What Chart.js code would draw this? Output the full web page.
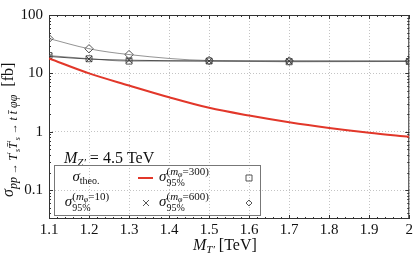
<!DOCTYPE html>
<html>
<head>
<meta charset="utf-8">
<script src="https://cdn.jsdelivr.net/npm/chart.js@4/dist/chart.umd.min.js"></script>
<style>
  html, body { margin: 0; padding: 0; background: #fff; }
  #wrap { width: 415px; height: 255px; }
</style>
</head>
<body>
<div id="wrap"><canvas id="xsec"></canvas></div>
<script>
// masses (TeV)
var massTheo = [1.1, 1.2, 1.3, 1.4, 1.5, 1.6, 1.7, 1.8, 1.9, 2.0];
var sigmaTheo = [18, 10, 6.2, 3.9, 2.57, 1.89, 1.45, 1.16, 0.96, 0.82];

var massLimit = [1.1, 1.2, 1.3, 1.5, 1.7, 2.0];
var limit10 = [19.5, 17.6, 16.8, 16.3, 16.2, 16.2];
var limit300 = [20.2, 17.8, 16.2, 16.3, 15.8, 16.0];
var limit600 = [39.5, 26.4, 21.0, 16.6, 16.3, 16.2];

var xTicks = [1.1, 1.2, 1.3, 1.4, 1.5, 1.6, 1.7, 1.8, 1.9, 2.0];
var xTickLabels = ["1.1", "1.2", "1.3", "1.4", "1.5", "1.6", "1.7", "1.8", "1.9", "2"];
var yTicks = [0.1, 1, 10, 100];
var yTickLabels = ["0.1", "1", "10", "100"];

var SERIF = "'Liberation Serif', 'DejaVu Serif', serif";
var RED = "#e2372a";

function pts(xs, ys) {
    return xs.map(function (x, i) { return { x: x, y: ys[i] }; });
}

// draw a run of text pieces: [text, size, italic, dy]
function drawRuns(ctx, runs, x, y) {
    runs.forEach(function (r) {
        ctx.font = (r[2] ? "italic " : "") + r[1] + "px " + SERIF;
        ctx.fillText(r[0], x, y + (r[3] || 0));
        x += ctx.measureText(r[0]).width;
    });
    return x;
}
function runsWidth(ctx, runs) {
    var w = 0;
    runs.forEach(function (r) {
        ctx.font = (r[2] ? "italic " : "") + r[1] + "px " + SERIF;
        w += ctx.measureText(r[0]).width;
    });
    return w;
}

function limitLabel(m) {
    return { sup: [["(", 11, false], ["m", 11, true], ["φ", 8, true, 2], ["=" + m + ")", 11, false]] };
}

function marker(ctx, style, x, y) {
    ctx.save();
    ctx.strokeStyle = "#444";
    ctx.lineWidth = 0.9;
    ctx.beginPath();
    if (style === "rect") {
        ctx.rect(x - 3, y - 3, 6, 6);
    } else if (style === "cross") {
        ctx.moveTo(x - 3, y - 3); ctx.lineTo(x + 3, y + 3);
        ctx.moveTo(x + 3, y - 3); ctx.lineTo(x - 3, y + 3);
    } else if (style === "diamond") {
        ctx.moveTo(x, y - 3); ctx.lineTo(x + 3, y); ctx.lineTo(x, y + 3); ctx.lineTo(x - 3, y); ctx.closePath();
    }
    ctx.stroke();
    ctx.restore();
}

var framePlugin = {
    id: "frame",
    beforeDatasetsDraw: function (chart) {
        var ctx = chart.ctx, a = chart.chartArea;
        var xs = chart.scales.x, ys = chart.scales.y;
        ctx.save();
        ctx.strokeStyle = "#333";
        ctx.lineWidth = 1;
        ctx.strokeRect(a.left + 0.5, a.top + 0.5, a.right - a.left - 1, a.bottom - a.top - 1);
        ctx.beginPath();
        // x ticks, major and minor, bottom and top
        for (var k = 0; k <= 45; k++) {
            var v = 1.1 + k * 0.02;
            var px = Math.round(xs.getPixelForValue(v)) + 0.5;
            var len = (k % 5 === 0) ? 4 : 2;
            ctx.moveTo(px, a.bottom); ctx.lineTo(px, a.bottom - len);
            ctx.moveTo(px, a.top); ctx.lineTo(px, a.top + len);
        }
        // y log ticks
        [0.01, 0.1, 1, 10].forEach(function (d) {
            for (var m = 1; m <= 9; m++) {
                var val = d * m;
                if (val < ys.min || val > ys.max) continue;
                var py = Math.round(ys.getPixelForValue(val)) + 0.5;
                var l = (m === 1) ? 4 : 2;
                ctx.moveTo(a.left, py); ctx.lineTo(a.left + l, py);
                ctx.moveTo(a.right, py); ctx.lineTo(a.right - l, py);
            }
        });
        ctx.stroke();
        ctx.restore();
    },
    afterDraw: function (chart) {
        var ctx = chart.ctx;
        ctx.save();
        ctx.fillStyle = "#111";
        ctx.textBaseline = "alphabetic";

        // M_Z' = 4.5 TeV
        drawRuns(ctx, [["M", 16, true], ["Z′", 11, true, 3], [" = 4.5 TeV", 16, false]], 64, 163);

        // legend box
        ctx.strokeStyle = "#777";
        ctx.lineWidth = 1;
        ctx.strokeRect(54.5, 165.5, 206, 50);

        // row 1, col 1: sigma_theo.
        var r1 = [["σ", 15, true], ["theo.", 10, false, 3]];
        drawRuns(ctx, r1, 86 - runsWidth(ctx, r1) / 2, 181);
        ctx.strokeStyle = RED;
        ctx.lineWidth = 2;
        ctx.beginPath(); ctx.moveTo(138, 178); ctx.lineTo(153, 178); ctx.stroke();

        // limit labels
        function limit(m, cx, y) {
            ctx.font = "italic 15px " + SERIF;
            var sw = ctx.measureText("σ").width;
            var sup = limitLabel(m).sup;
            var w = sw + runsWidth(ctx, sup);
            var x0 = cx - w / 2;
            ctx.font = "italic 15px " + SERIF;
            ctx.fillText("σ", x0, y);
            drawRuns(ctx, sup, x0 + sw, y - 6);
            drawRuns(ctx, [["95%", 10, false]], x0 + sw, y + 5);
        }
        limit("300", 184, 181);
        marker(ctx, "rect", 249, 178);
        limit("10", 87, 206);
        marker(ctx, "cross", 146, 203);
        limit("600", 184, 206);
        marker(ctx, "diamond", 249, 203);

        // x title
        drawRuns(ctx, [["M", 16, true], ["T′", 11, true, 3], [" [TeV]", 16, false]], 193, 250);

        // y title (rotated)
        ctx.translate(13, 197);
        ctx.rotate(-Math.PI / 2);
        drawRuns(ctx, [
            ["σ", 16, true],
            ["pp", 12, true, 4], [" → ", 11, false, 4], ["T", 12, true, 4], ["′", 9, false, 0], ["s", 8, true, 7],
            ["T̄", 12, true, 4], ["′", 9, false, 0], ["s", 8, true, 7],
            [" → ", 11, false, 4], ["t t̄ φφ", 12, true, 4],
            ["  [fb]", 16, false]
        ], 0, 0);
        ctx.restore();
    }
};

var ctx = document.getElementById("xsec").getContext("2d");
var chart = new Chart(ctx, {
    type: "line",
    data: {
        datasets: [
            {
                label: "theo",
                data: pts(massTheo, sigmaTheo),
                borderColor: RED,
                borderWidth: 2,
                pointRadius: 0,
                cubicInterpolationMode: "monotone",
                fill: false,
            },
            {
                label: "m10",
                data: pts(massLimit, limit10),
                borderColor: "#444",
                borderWidth: 0.9,
                pointStyle: "crossRot",
                pointRadius: 4.2,
                pointBorderColor: "#333",
                pointBorderWidth: 0.9,
                cubicInterpolationMode: "monotone",
                fill: false,
            },
            {
                label: "m300",
                data: pts(massLimit, limit300),
                borderColor: "#888",
                borderWidth: 0.9,
                pointStyle: "rect",
                pointRadius: 4.2,
                pointBackgroundColor: "rgba(255,255,255,0)",
                pointBorderColor: "#444",
                pointBorderWidth: 0.9,
                cubicInterpolationMode: "monotone",
                fill: false,
            },
            {
                label: "m600",
                data: pts(massLimit, limit600),
                borderColor: "#888",
                borderWidth: 0.9,
                pointStyle: "rectRot",
                pointRadius: 4.2,
                pointBackgroundColor: "rgba(255,255,255,0)",
                pointBorderColor: "#444",
                pointBorderWidth: 0.9,
                cubicInterpolationMode: "monotone",
                fill: false,
            },
        ],
    },
    options: {
        responsive: true,
        maintainAspectRatio: false,
        animation: false,
        layout: { padding: { top: 9, right: 5, left: 0, bottom: 0 } },
        scales: {
            x: {
                type: "linear",
                min: 1.1,
                max: 2.0,
                afterBuildTicks: function (scale) {
                    scale.ticks = xTicks.map(function (v) { return { value: v }; });
                },
                afterFit: function (scale) { scale.height = 36; },
                grid: { color: "#c4c4c4", drawTicks: false },
                border: { display: false, dash: [1, 2] },
                ticks: {
                    color: "#111",
                    padding: 2,
                    maxRotation: 0,
                    autoSkip: false,
                    font: { family: SERIF, size: 15 },
                    callback: function (value, index) { return xTickLabels[index]; },
                },
            },
            y: {
                type: "logarithmic",
                min: 0.032,
                max: 100,
                afterBuildTicks: function (scale) {
                    scale.ticks = yTicks.map(function (v) { return { value: v }; });
                },
                afterFit: function (scale) { scale.width = 49; },
                grid: { color: "#c4c4c4", drawTicks: false },
                border: { display: false, dash: [1, 2] },
                ticks: {
                    color: "#111",
                    padding: 6,
                    autoSkip: false,
                    font: { family: SERIF, size: 15 },
                    callback: function (value, index) { return yTickLabels[index]; },
                },
            },
        },
        plugins: {
            legend: { display: false },
            tooltip: { enabled: false },
        },
    },
    plugins: [framePlugin],
});
</script>
</body>
</html>
